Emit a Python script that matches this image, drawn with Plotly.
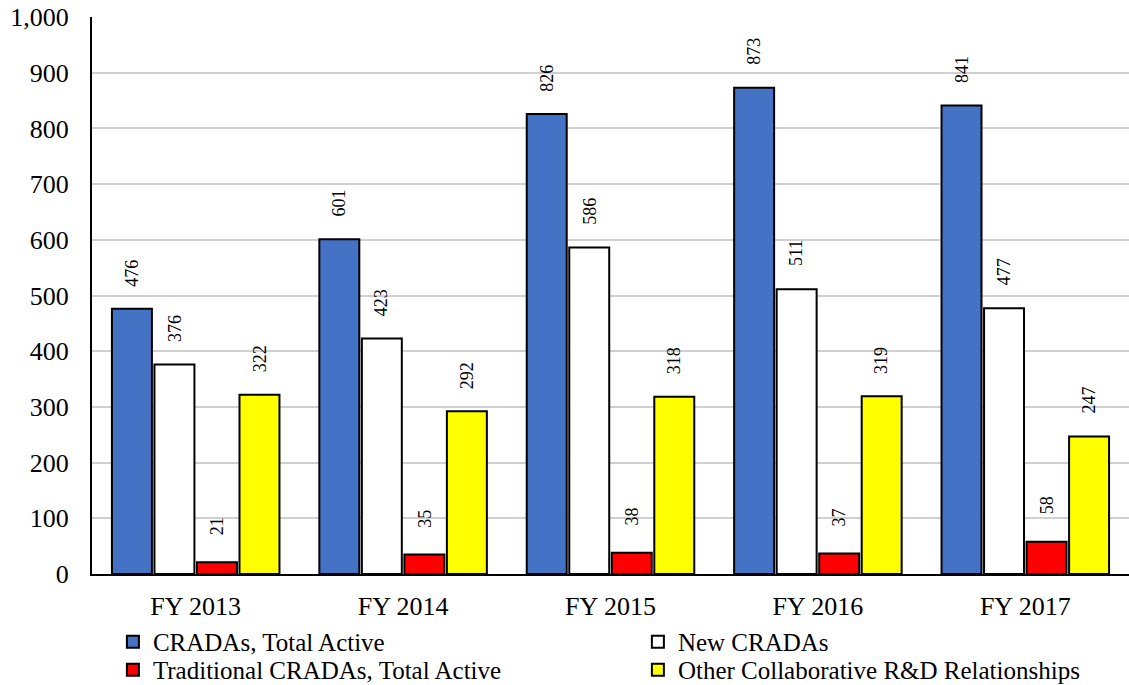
import plotly.graph_objects as go

categories = ["FY 2013", "FY 2014", "FY 2015", "FY 2016", "FY 2017"]
cradas_total = [476, 601, 826, 873, 841]
new_cradas = [376, 423, 586, 511, 477]
traditional = [21, 35, 38, 37, 58]
other_collab = [322, 292, 318, 319, 247]

series = [
    ("CRADAs, Total Active", cradas_total, "#4472C4"),
    ("New CRADAs", new_cradas, "#FFFFFF"),
    ("Traditional CRADAs, Total Active", traditional, "#FF0000"),
    ("Other Collaborative R&D Relationships", other_collab, "#FFFF00"),
]
legend_pos = [(0.100, 0.0628), (0.565, 0.0628), (0.100, 0.0219), (0.565, 0.0219)]

FONT = "Liberation Serif"
W, H = 1129, 685
ML = 92
BARGAP = 0.18
plot_w = W - ML
slot = plot_w / len(categories) * (1 - BARGAP) / len(series)

fig = go.Figure()
legends = {}
for i, (name, vals, color) in enumerate(series):
    leg = "legend" if i == 0 else f"legend{i + 1}"
    fig.add_trace(go.Bar(
        x=categories, y=vals, name=name, legend=leg,
        marker=dict(color=color, line=dict(color="black", width=2)),
    ))
    lx, ly = legend_pos[i]
    legends[leg] = dict(x=lx, y=ly, xref="container", yref="container",
                        xanchor="left", yanchor="middle", orientation="h",
                        font=dict(family=FONT, size=25, color="black"),
                        itemwidth=30, bgcolor="rgba(0,0,0,0)")
    shift = (i - 1.5) * slot
    for c, v in zip(categories, vals):
        fig.add_annotation(x=c, y=v, text=str(v), textangle=-90, showarrow=False,
                           xshift=shift, yshift=36, xanchor="center", yanchor="middle",
                           font=dict(family=FONT, size=18, color="black"))

fig.update_layout(
    width=W, height=H,
    margin=dict(l=ML, r=0, t=17, b=111, autoexpand=False),
    paper_bgcolor="white", plot_bgcolor="white",
    font=dict(family=FONT, size=26, color="black"),
    barmode="group", bargap=BARGAP, bargroupgap=0.06,
    showlegend=True,
    **legends,
)
fig.update_yaxes(range=[0, 1000], dtick=100, tickformat=",", showgrid=True,
                 gridcolor="#D0D0D0", gridwidth=1.5, showline=True, linecolor="black",
                 linewidth=2, ticks="", zeroline=False, ticklabelstandoff=16,
                 ticklabeloverflow="allow",
                 tickfont=dict(family=FONT, size=26))
fig.update_xaxes(showline=True, linecolor="black", linewidth=2, ticks="",
                 ticklabelstandoff=8, tickfont=dict(family=FONT, size=26))

fig.write_html("out.html", config={"displayModeBar": False},
               post_script="document.body.style.margin='0';")
